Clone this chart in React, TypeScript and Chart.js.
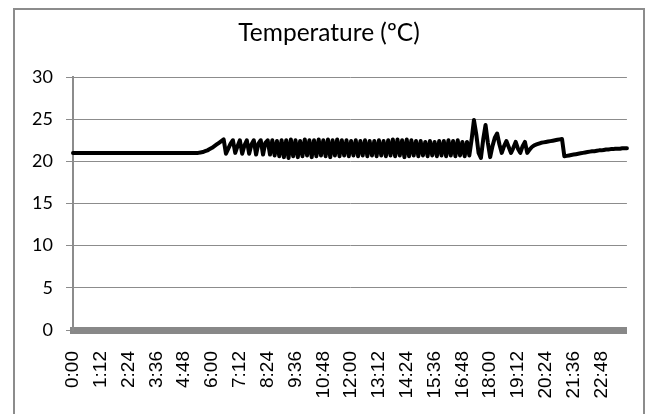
import { useEffect, useRef } from "react";
import { Chart, registerables } from "chart.js";

Chart.register(...registerables);

const TITLE = "Temperature (ºC)";
const STEP_MINUTES = 6;
const LABEL_EVERY = 12;

// Temperature readings every 6 minutes, 0:00 → 23:54
const TEMPS: number[] = [
  21, 21, 21, 21, 21, 21, 21, 21, 21, 21,
  21, 21, 21, 21, 21, 21, 21, 21, 21, 21,
  21, 21, 21, 21, 21, 21, 21, 21, 21, 21,
  21, 21, 21, 21, 21, 21, 21, 21, 21, 21,
  21, 21, 21, 21, 21, 21, 21, 21, 21, 21,
  21, 21, 21, 21, 21, 21.05, 21.1, 21.2, 21.3, 21.45,
  21.6, 21.8, 22.0, 22.2, 22.4, 22.6, 20.9, 21.5, 22.1, 22.5,
  21.0, 21.8, 22.5, 20.9, 21.9, 22.5, 20.9, 22.0, 22.5, 20.8,
  22.1, 22.5, 20.8, 22.2, 22.5, 20.8, 22.5, 20.7, 22.4, 20.6,
  22.5, 20.5, 22.5, 20.4, 22.6, 20.6, 22.5, 20.5, 22.4, 20.6,
  22.6, 20.7, 22.5, 20.5, 22.5, 20.6, 22.6, 20.7, 22.5, 20.6,
  22.6, 20.5, 22.5, 20.7, 22.6, 20.6, 22.5, 20.7, 22.5, 20.6,
  22.4, 20.7, 22.5, 20.6, 22.4, 20.7, 22.5, 20.6, 22.4, 20.7,
  22.4, 20.6, 22.5, 20.7, 22.4, 20.6, 22.5, 20.7, 22.6, 20.6,
  22.6, 20.7, 22.5, 20.5, 22.6, 20.6, 22.5, 20.7, 22.4, 20.6,
  22.4, 20.7, 22.3, 20.6, 22.4, 20.7, 22.3, 20.6, 22.4, 20.7,
  22.4, 20.6, 22.5, 20.7, 22.4, 20.6, 22.5, 20.7, 22.3, 20.6,
  22.3, 20.7, 22.6, 24.9, 23.2, 21.0, 20.4, 22.6, 24.3, 22.2,
  20.5, 21.8, 22.8, 23.3, 22.0, 21.0, 21.8, 22.4, 21.7, 21.0,
  21.6, 22.3, 21.5, 21.0, 21.8, 22.3, 21.0, 21.4, 21.7, 21.9,
  22.0, 22.1, 22.2, 22.25, 22.3, 22.35, 22.4, 22.45, 22.5, 22.55,
  22.6, 22.65, 20.6, 20.65, 20.7, 20.75, 20.8, 20.85, 20.9, 20.95,
  21.0, 21.05, 21.1, 21.15, 21.2, 21.2, 21.25, 21.3, 21.3, 21.35,
  21.4, 21.4, 21.45, 21.45, 21.5, 21.5, 21.5, 21.55, 21.55, 21.55,
];

const Y_MIN = 0;
const Y_MAX = 30;
const Y_STEP = 5;

function fmtTime(minutes: number): string {
  const h = Math.floor(minutes / 60);
  const m = minutes % 60;
  return `${h}:${String(m).padStart(2, "0")}`;
}

const CATEGORIES: string[] = TEMPS.map((_, i) => fmtTime(i * STEP_MINUTES));

export default function App() {
  const canvasRef = useRef<HTMLCanvasElement | null>(null);

  useEffect(() => {
    const canvas = canvasRef.current;
    if (!canvas) return;
    const chart = new Chart(canvas, {
      type: "line",
      data: {
        labels: CATEGORIES,
        datasets: [
          {
            label: TITLE,
            data: TEMPS,
            borderColor: "#000000",
            borderWidth: 4,
            pointRadius: 0,
            tension: 0,
            borderJoinStyle: "round",
            borderCapStyle: "round",
            fill: false,
          },
        ],
      },
      options: {
        responsive: false,
        animation: false,
        devicePixelRatio: 1,
        layout: { padding: { left: 29, right: 17, top: 0, bottom: 0 } },
        plugins: {
          legend: { display: false },
          tooltip: { enabled: false },
          title: {
            display: true,
            text: TITLE,
            color: "#000000",
            font: { family: "Lato", size: 24.5, weight: "normal" },
            padding: { top: 18, bottom: 29.6 },
          },
        },
        scales: {
          x: {
            type: "category",
            offset: false,
            grid: { display: true, color: "rgba(0,0,0,0)", drawTicks: false },
            border: { display: true, color: "#888888", width: 7 },
            ticks: {
              autoSkip: false,
              maxRotation: 90,
              minRotation: 90,
              padding: 21,
              color: "#000000",
              font: { family: "Liberation Sans", size: 19 },
              callback: (_v: any, i: number) =>
                i % LABEL_EVERY === 0 ? CATEGORIES[i] : null,
            },
            afterFit: (s: any) => {
              s.height = 84;
            },
          },
          y: {
            min: Y_MIN,
            max: Y_MAX,
            ticks: {
              stepSize: Y_STEP,
              padding: 13,
              color: "#000000",
              font: { family: "Lato", size: 18 },
            },
            grid: { color: "#8c8c8c", lineWidth: 1, tickLength: 7, drawTicks: true },
            border: { color: "#8c8c8c", width: 2 },
            afterFit: (s: any) => {
              s.width = 44;
            },
          },
        },
      },
    });
    return () => chart.destroy();
  }, []);

  return (
    <div style={{ position: "absolute", left: 0, top: 0, width: 646, height: 414, overflow: "hidden", background: "#fff" }}>
      <div
        style={{
          position: "absolute",
          left: 13,
          top: 8,
          width: 632,
          height: 430,
          boxSizing: "border-box",
          border: "2px solid #8c8c8c",
        }}
      />
      <canvas
        ref={canvasRef}
        width={646}
        height={414}
        style={{ position: "absolute", left: 0, top: 0, width: 646, height: 414 }}
      />
    </div>
  );
}
